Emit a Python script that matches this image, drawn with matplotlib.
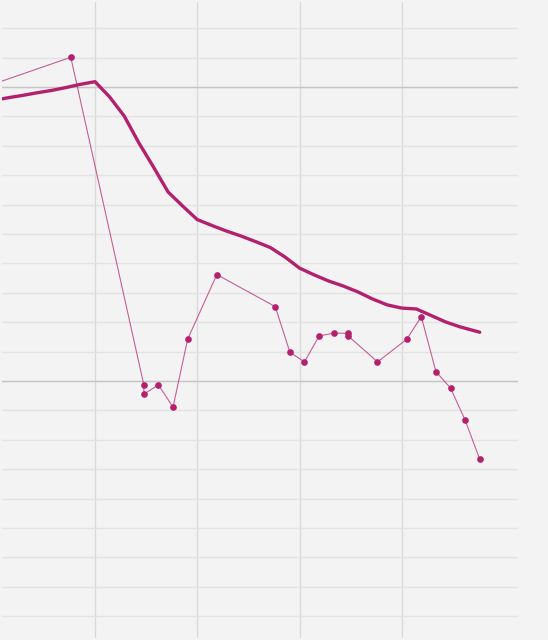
import matplotlib
matplotlib.use("Agg")
import matplotlib.pyplot as plt

# trend line (thick)
trend_x = [-7, -6, -5, -4, -3, -2, -1, 0, 1, 2, 3, 4, 5, 6, 7, 8, 9, 10,
           11, 12, 13, 14, 15, 16, 17, 18, 19, 20, 21, 22, 23, 24, 25, 26.34]
trend_y = [9.54, 9.63, 9.71, 9.80, 9.88, 9.98, 10.09, 10.18, 9.66, 9.01,
           8.10, 7.28, 6.43, 5.95, 5.49, 5.29, 5.10, 4.93, 4.74, 4.54, 4.22,
           3.84, 3.61, 3.40, 3.23, 3.03, 2.79, 2.59, 2.48, 2.45, 2.23, 2.01,
           1.84, 1.66]

# observations (thin line with dots)
obs_x = [-6.66, -1.66, 3.34, 3.34, 4.34, 5.34, 6.34, 8.34, 12.34, 13.34,
         14.34, 15.34, 16.34, 17.34, 17.34, 19.34, 21.34, 22.34, 23.34,
         24.34, 25.34, 26.34]
obs_y = [10.15, 11.01, -0.13, -0.45, -0.13, -0.89, 1.42, 3.62, 2.53, 0.98,
         0.65, 1.53, 1.63, 1.62, 1.53, 0.65, 1.42, 2.19, 0.32, -0.24, -1.33,
         -2.66]

x_ticks = [0, 7, 14, 21]
y_ticks = list(range(-8, 13))

bg = '#f3f3f3'
color = '#b3206d'

fig = plt.figure(figsize=(5.48, 6.4), dpi=100, facecolor=bg)
ax = fig.add_axes([2 / 548, 2 / 640, 516 / 548, 636 / 640])
ax.set_facecolor(bg)

ax.set_xlim(-6.37, 28.96)
ax.set_ylim(-8.74, 12.89)
ax.set_xticks(x_ticks)
ax.set_yticks(y_ticks)
ax.tick_params(length=0, labelbottom=False, labelleft=False)
for s in ax.spines.values():
    s.set_visible(False)

ax.grid(True, axis='y', color='#e3e3e3', linewidth=1.0)
ax.grid(True, axis='x', color='#dadada', linewidth=1.0)
ax.set_axisbelow(True)
for v in (0, 10):
    ax.axhline(v, color='#c6c6c6', linewidth=1.0, zorder=1)

ax.plot(obs_x, obs_y, color=color, alpha=0.7, linewidth=0.8, zorder=2)
ax.plot(obs_x, obs_y, linestyle='none', marker='o', markersize=4.8,
        color=color, markeredgewidth=0, zorder=3)
ax.plot(trend_x, trend_y, color=color, linewidth=2.4, zorder=4,
        solid_joinstyle='round', solid_capstyle='round')

fig.savefig('out.png', dpi=100, facecolor=bg)
